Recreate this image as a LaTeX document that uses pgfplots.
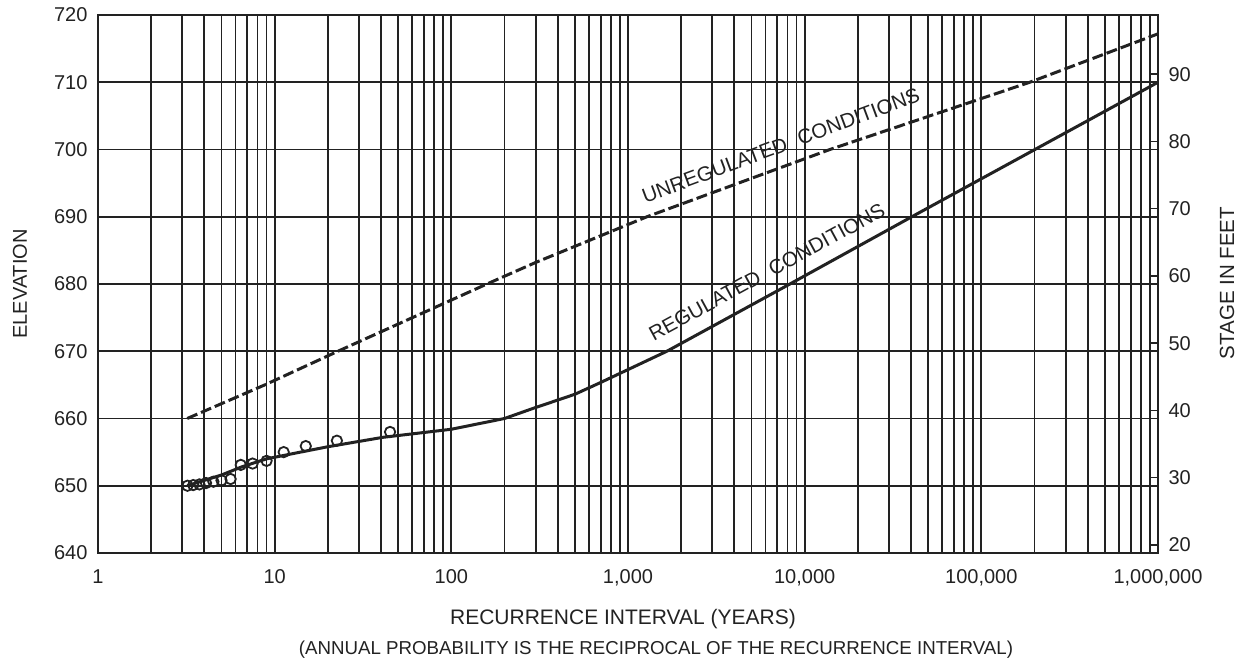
\documentclass[border=0pt]{standalone}
\usepackage{fontspec}
\setmainfont{Liberation Sans}
\usepackage{pgfplots}
\pgfplotsset{compat=1.18}
\definecolor{ink}{HTML}{222222}
\begin{document}
\begin{tikzpicture}
\begin{axis}[
  at={(0pt,0pt)}, anchor=south west,
  scale only axis, width=1060pt, height=538pt,
  xmode=log, xmin=1, xmax=1000000, ymin=640, ymax=720,
  xtick={1,10,100,1000,10000,100000,1000000},
  xticklabels={1,10,100,{1,000},{10,000},{100,000},{1,000,000}},
  minor xtick={2,3,4,5,6,7,8,9,20,30,40,50,60,70,80,90,200,300,400,500,600,700,800,900,2000,3000,4000,5000,6000,7000,8000,9000,20000,30000,40000,50000,60000,70000,80000,90000,200000,300000,400000,500000,600000,700000,800000,900000},
  ytick={640,650,660,670,680,690,700,710,720},
  yticklabels={640,650,660,670,680,690,700,710,720},
  grid=both,
  major grid style={draw=ink, line width=1.8pt},
  minor grid style={draw=ink, line width=1.8pt},
  axis line style={draw=ink, line width=2pt},
  major tick length=0pt, minor tick length=0pt,
  tick label style={font=\fontsize{20}{23}\selectfont, text=ink},
  xticklabel style={yshift=-13pt},
  yticklabel style={xshift=-7pt},
]
% unregulated conditions
\addplot[ink, line width=3pt, dash pattern=on 11pt off 4pt] coordinates {
 (3.2,660) (8.8,665) (22.8,670) (159,680) (300,683.2) (1280,690)
 (13900,700) (188000,710) (1000000,717.2)};
% regulated conditions
\addplot[ink, line width=3pt] coordinates {
 (3.2,650) (4,650.8) (5,651.6) (6.5,652.8) (9,654) (14,655) (20,655.8)
 (41,657.2) (100,658.4) (200,660) (290,661.5) (500,663.6) (693,665.3)
 (1660,670) (8250,680) (40400,690) (201000,700) (1000000,710)};
% observed data
\addplot[only marks, mark=o, mark size=5.2pt, mark options={draw=ink, line width=1.8pt}] coordinates {
 (45,658.0) (22.5,656.7) (15,655.9) (11.25,655.0) (9,653.7) (7.5,653.3)
 (6.43,653.1) (5.63,651.0) (5.0,650.8) (4.5,650.6) (4.09,650.4) (3.75,650.2)
 (3.46,650.1) (3.21,650.0)};
\node[rotate=20.4, text=ink, font=\fontsize{20.5}{24}\selectfont] at (axis cs:7330,700.6) {UNREGULATED\hspace{0.6em}CONDITIONS};
\node[rotate=28.5, text=ink, font=\fontsize{20.5}{24}\selectfont] at (axis cs:6110,681.8) {REGULATED\hspace{0.6em}CONDITIONS};
\end{axis}
\begin{axis}[
  at={(0pt,0pt)}, anchor=south west,
  scale only axis, width=1060pt, height=538pt,
  xmode=log, xmin=1, xmax=1000000, ymin=18.8, ymax=98.8,
  axis x line=none, axis y line*=right,
  y axis line style={draw=ink, line width=2pt},
  ytick={20,30,40,50,60,70,80,90},
  yticklabels={20,30,40,50,60,70,80,90},
  tick align=inside, major tick length=7pt,
  ytick style={draw=ink, line width=1.6pt},
  tick label style={font=\fontsize{20}{23}\selectfont, text=ink},
  yticklabel style={xshift=7pt},
]
\end{axis}
\node[rotate=90, text=ink, font=\fontsize{20}{24}\selectfont] at (-78pt,269pt) {ELEVATION};
\node[rotate=90, text=ink, font=\fontsize{20.5}{24}\selectfont] at (1129pt,270pt) {STAGE IN FEET};
\node[text=ink, font=\fontsize{21}{25}\selectfont] at (525pt,-66pt) {RECURRENCE INTERVAL (YEARS)};
\node[text=ink, font=\fontsize{18.7}{22}\selectfont] at (558pt,-97pt) {(ANNUAL PROBABILITY IS THE RECIPROCAL OF THE RECURRENCE INTERVAL)};
\pgfresetboundingbox
\path[use as bounding box] (-98pt,-107pt) rectangle (1145pt,553pt);
\end{tikzpicture}
\end{document}
